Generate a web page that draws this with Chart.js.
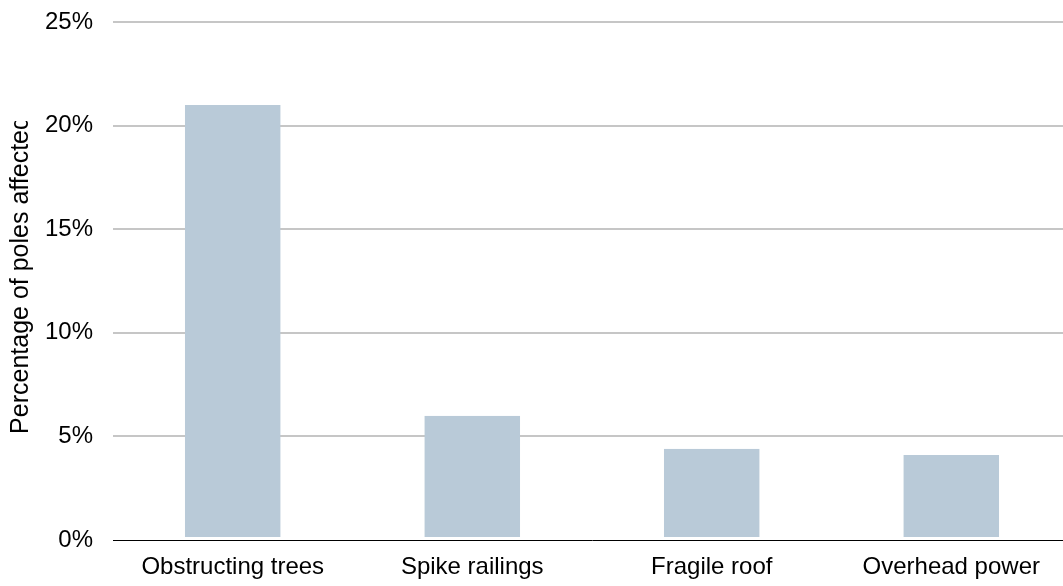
<!DOCTYPE html>
<html>
<head>
<meta charset="utf-8">
<title>Percentage of poles affected</title>
<script src="https://cdn.jsdelivr.net/npm/chart.js@4/dist/chart.umd.min.js"></script>
<style>
  html, body { margin: 0; padding: 0; background: #fff; overflow: hidden; }
  #chart { display: block; }
</style>
</head>
<body>
<canvas id="chart" width="1071" height="620"></canvas>
<script>
// Hazard categories and the share of poles affected by each (percent)
const categories = ['Obstructing trees', 'Spike railings', 'Fragile roof', 'Overhead power'];
const percentAffected = [21, 6, 4.4, 4.1];
const yTicks = [0, 5, 10, 15, 20, 25];
const yTitle = 'Percentage of poles affected';

const FONT = '"Liberation Sans", Arial, Helvetica, sans-serif';

// Rotated y-axis title, clipped to the upper edge of its box
const yTitlePlugin = {
  id: 'yTitle',
  afterDraw(chart) {
    const { ctx } = chart;
    ctx.save();
    ctx.beginPath();
    ctx.rect(0, 121, 60, 480);
    ctx.clip();
    ctx.translate(21, 275);
    ctx.rotate(-Math.PI / 2);
    ctx.font = '25px ' + FONT;
    ctx.fillStyle = '#000';
    ctx.textAlign = 'center';
    ctx.textBaseline = 'middle';
    ctx.fillText(yTitle, 0, 0);
    ctx.restore();
  }
};

new Chart(document.getElementById('chart'), {
  type: 'bar',
  data: {
    labels: categories,
    datasets: [{
      data: percentAffected,
      backgroundColor: '#b9cad8',
      borderColor: '#ffffff',
      borderWidth: { top: 0, left: 0, right: 0, bottom: 2 },
      borderSkipped: false,
      categoryPercentage: 1,
      barPercentage: 0.4
    }]
  },
  options: {
    responsive: false,
    animation: false,
    layout: { padding: { top: 22, right: 0, bottom: 0, left: 0 } },
    plugins: {
      legend: { display: false },
      tooltip: { enabled: false }
    },
    scales: {
      x: {
        z: 1,
        grid: { display: false, drawTicks: false },
        border: { display: true, color: '#000', width: 1 },
        ticks: {
          padding: 13,
          color: '#000',
          font: { family: FONT, size: 24 },
          maxRotation: 0,
          autoSkip: false
        },
        afterFit(scale) {
          scale.height = 80;
          scale.paddingLeft = 0;
          scale.paddingRight = 0;
        }
      },
      y: {
        min: 0,
        max: 25,
        afterBuildTicks(scale) {
          scale.ticks = yTicks.map(v => ({ value: v }));
        },
        grid: {
          drawTicks: false,
          lineWidth: 2,
          color: ctx => (ctx.tick && ctx.tick.value === 0) ? 'rgba(0,0,0,0)' : '#c6c6c6'
        },
        border: { display: false },
        ticks: {
          padding: 20,
          color: '#000',
          font: { family: FONT, size: 24 },
          callback: v => v + '%'
        },
        afterFit(scale) {
          scale.width = 113;
          scale.paddingTop = 0;
          scale.paddingBottom = 0;
        }
      }
    }
  },
  plugins: [yTitlePlugin]
});
</script>
</body>
</html>
